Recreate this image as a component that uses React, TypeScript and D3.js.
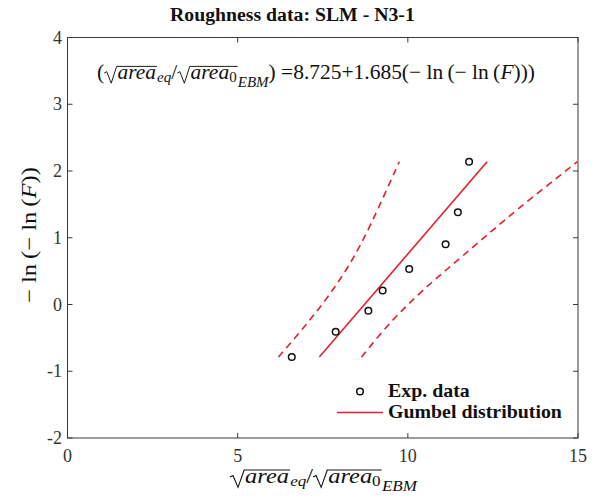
import React, { useEffect, useRef } from "react";
import * as d3 from "d3";

const W = 597;
const H = 500;

// Experimental points (reduced variate vs. normalised sqrt(area))
const expX = [6.59, 7.88, 8.84, 9.26, 10.04, 11.11, 11.47, 11.8];
const expY = [-0.787, -0.408, -0.094, 0.209, 0.531, 0.903, 1.381, 2.139];
// Gumbel fit line
const fitX = [7.399, 12.329];
const fitY = [-0.787, 2.139];
// Confidence bands (same y as data)
const bandLeftX = [6.2, 6.84, 7.34, 7.79, 8.21, 8.63, 9.08, 9.75];
const bandRightX = [8.64, 9.24, 9.81, 10.43, 11.15, 12.02, 13.1, 14.98];

const xTicks = [0, 5, 10, 15];
const yTicks = [-2, -1, 0, 1, 2, 3, 4];
const titleText = "Roughness data: SLM - N3-1";
const legendLabels = ["Exp. data", "Gumbel distribution"];

const RED = "#e3202b";
const AXIS = "#3a3a3a";
const SERIF = "'Liberation Serif', 'DejaVu Serif', serif";

type Piece = { t?: string; italic?: boolean; scale?: number; dy?: number; sqrt?: Piece[] };

function layoutMath(g: any, pieces: Piece[], x0: number, base: number, size: number): number {
  let x = x0;
  for (const p of pieces) {
    if (p.sqrt) {
      const top = base - size * 0.6;
      const rx = x;
      const cStart = rx + size * 0.62;
      const end = layoutMath(g, p.sqrt, cStart, base, size);
      g.append("path")
        .attr(
          "d",
          `M${rx},${base - size * 0.28} L${rx + size * 0.12},${base - size * 0.35} L${rx + size * 0.33},${base + size * 0.2} L${rx + size * 0.58},${top} L${end + size * 0.04},${top}`
        )
        .attr("fill", "none")
        .attr("stroke", "#111")
        .attr("stroke-width", size * 0.045);
      x = end + size * 0.05;
    } else {
      const s = size * (p.scale ?? 1);
      const t = g
        .append("text")
        .attr("x", x)
        .attr("y", base + (p.dy ?? 0) * size)
        .attr("font-family", SERIF)
        .attr("font-size", s)
        .attr("font-style", p.italic ? "italic" : "normal")
        .attr("fill", "#111")
        .text(p.t ?? "");
      x += (t.node() as SVGTextElement).getComputedTextLength();
    }
  }
  return x;
}

// lay out math at a given font size, centred at cx and stretched horizontally to the target width
function fitMath(parent: any, pieces: Piece[], cx: number, base: number, size: number, target: number, transform?: string) {
  const outer = parent.append("g");
  if (transform) outer.attr("transform", transform);
  const g = outer.append("g");
  const w = layoutMath(g, pieces, 0, base, size);
  const sx = target / w;
  g.attr("transform", `translate(${cx - target / 2},0) scale(${sx},1)`);
}

function fitText(svg: any, text: string, x: number, yb: number, size: number, target: number, anchor: string) {
  const t = svg
    .append("text")
    .attr("font-family", SERIF)
    .attr("font-weight", "bold")
    .attr("font-size", size)
    .attr("fill", "#111")
    .text(text);
  const w = (t.node() as SVGTextElement).getComputedTextLength();
  const sx = target / w;
  const left = anchor === "middle" ? x - target / 2 : x;
  t.attr("transform", `translate(${left},${yb}) scale(${sx},1)`);
  return sx;
}

const areaEq: Piece[] = [
  { sqrt: [{ t: "area", italic: true }] },
  { t: "eq", italic: true, scale: 0.7, dy: 0.16 },
  { t: "/" },
  { sqrt: [{ t: "area", italic: true }, { t: "0", scale: 0.7, dy: 0.12 }] },
  { t: "EBM", italic: true, scale: 0.7, dy: 0.36 },
];

export default function App() {
  const ref = useRef<SVGSVGElement>(null);

  useEffect(() => {
    const svg = d3.select(ref.current);
    svg.selectAll("*").remove();

    const m = { l: 67.5, r: 578, t: 37.5, b: 438 };
    const x = d3.scaleLinear().domain([0, 15]).range([m.l, m.r]);
    const y = d3.scaleLinear().domain([-2, 4]).range([m.b, m.t]);

    svg.append("rect").attr("width", W).attr("height", H).attr("fill", "white");

    // box
    svg
      .append("rect")
      .attr("x", m.l)
      .attr("y", m.t)
      .attr("width", m.r - m.l)
      .attr("height", m.b - m.t)
      .attr("fill", "none")
      .attr("stroke", AXIS)
      .attr("stroke-width", 1);

    const tl = 5;
    xTicks.forEach((v) => {
      svg.append("line").attr("x1", x(v)).attr("x2", x(v)).attr("y1", m.b).attr("y2", m.b - tl).attr("stroke", AXIS);
      svg.append("line").attr("x1", x(v)).attr("x2", x(v)).attr("y1", m.t).attr("y2", m.t + tl).attr("stroke", AXIS);
      svg
        .append("text")
        .attr("x", x(v))
        .attr("y", 462)
        .attr("text-anchor", "middle")
        .attr("font-family", SERIF)
        .attr("font-size", 18)
        .attr("fill", "#333")
        .text(String(v));
    });
    yTicks.forEach((v) => {
      svg.append("line").attr("x1", m.l).attr("x2", m.l + tl).attr("y1", y(v)).attr("y2", y(v)).attr("stroke", AXIS);
      svg.append("line").attr("x1", m.r).attr("x2", m.r - tl).attr("y1", y(v)).attr("y2", y(v)).attr("stroke", AXIS);
      svg
        .append("text")
        .attr("x", 62)
        .attr("y", y(v) + 6)
        .attr("text-anchor", "end")
        .attr("font-family", SERIF)
        .attr("font-size", 18)
        .attr("fill", "#333")
        .text(String(v).replace("−", "-"));
    });

    const line = d3
      .line<number>()
      .x((d) => x(d))
      .y((_, i) => y(expY[i]))
      .curve(d3.curveBasis);

    [bandLeftX, bandRightX].forEach((arr) => {
      svg
        .append("path")
        .attr("d", line(arr))
        .attr("fill", "none")
        .attr("stroke", RED)
        .attr("stroke-width", 1.6)
        .attr("stroke-dasharray", "7,5");
    });

    svg
      .append("path")
      .attr(
        "d",
        d3
          .line<number>()
          .x((d) => x(d))
          .y((_, i) => y(fitY[i]))(fitX)
      )
      .attr("fill", "none")
      .attr("stroke", RED)
      .attr("stroke-width", 1.6);

    expX.forEach((v, i) => {
      svg
        .append("circle")
        .attr("cx", x(v))
        .attr("cy", y(expY[i]))
        .attr("r", 3.3)
        .attr("fill", "none")
        .attr("stroke", "#111")
        .attr("stroke-width", 1.5);
    });

    // title
    fitText(svg, titleText, 292.5, 21, 19, 245, "middle");

    // equation
    fitMath(
      svg,
      [
        { t: "(" },
        ...areaEq,
        { t: ") =8.725+1.685(− ln\u2009(− ln\u2009(" },
        { t: "F", italic: true },
        { t: ")))" },
      ],
      316,
      79,
      21,
      438
    );

    // x label
    fitMath(svg, areaEq, 323.5, 483, 21.5, 187);

    // y label
    fitMath(
      svg,
      [{ t: "− ln\u2009(− ln\u2009(" }, { t: "F", italic: true }, { t: "))" }],
      0,
      7,
      21,
      136,
      "translate(29,235) rotate(-90)"
    );

    // legend
    svg
      .append("circle")
      .attr("cx", 360)
      .attr("cy", 391.5)
      .attr("r", 3.3)
      .attr("fill", "none")
      .attr("stroke", "#111")
      .attr("stroke-width", 1.5);
    svg.append("line").attr("x1", 337).attr("x2", 383).attr("y1", 412.5).attr("y2", 412.5).attr("stroke", RED).attr("stroke-width", 1.6);
    const sx = fitText(svg, legendLabels[1], 388, 418, 18, 174, "start");
    svg
      .append("text")
      .attr("font-family", SERIF)
      .attr("font-weight", "bold")
      .attr("font-size", 18)
      .attr("fill", "#111")
      .attr("transform", `translate(388,397) scale(${sx},1)`)
      .text(legendLabels[0]);
  }, []);

  return <svg ref={ref} width={W} height={H} style={{ display: "block", margin: "-8px" }} />;
}
